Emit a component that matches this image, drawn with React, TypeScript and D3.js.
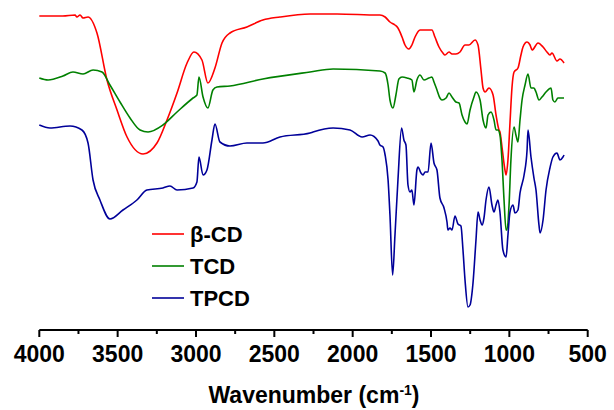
import React from "react";
import * as d3 from "d3";

// Wavenumber (cm-1) and relative transmittance (a.u.) for each spectrum
const betaCD: [number, number][] = [
  [4000, 314], [3850, 314], [3772, 315], [3760, 313], [3740, 315], [3721, 312], [3689, 313],
  [3632, 297], [3568, 250], [3504, 220], [3440, 193], [3338, 176], [3249, 187], [3185, 210],
  [3121, 237], [3057, 267], [3013, 278], [2962, 270], [2924, 247], [2879, 262], [2834, 287],
  [2783, 297], [2675, 303], [2573, 310], [2464, 313], [2272, 316], [2100, 316], [1838, 315],
  [1826, 315], [1793, 313], [1762, 308], [1730, 305], [1711, 302], [1685, 293], [1666, 285],
  [1641, 281], [1622, 285], [1602, 293], [1570, 300], [1526, 300], [1494, 300], [1475, 293],
  [1449, 283], [1424, 277], [1411, 275], [1385, 278], [1366, 276], [1341, 276], [1315, 278],
  [1283, 285], [1258, 285], [1219, 290], [1200, 285], [1181, 260], [1168, 242], [1155, 238],
  [1130, 242], [1104, 235], [1085, 215], [1066, 200], [1060, 198], [1047, 183], [1028, 160],
  [1021, 155], [1009, 170], [996, 207], [983, 243], [970, 258], [945, 262], [926, 275],
  [913, 283], [887, 288], [868, 285], [855, 280], [817, 287], [785, 283], [760, 278],
  [741, 275], [728, 277], [696, 269], [677, 271], [651, 267],
];

const tcd: [number, number][] = [
  [4000, 252], [3944, 250], [3849, 254], [3785, 258], [3721, 256], [3657, 260], [3600, 258],
  [3549, 245], [3485, 228], [3421, 212], [3357, 200], [3306, 198], [3211, 205], [3121, 218],
  [3019, 232], [2994, 235], [2981, 253], [2955, 233], [2924, 222], [2892, 240], [2866, 243],
  [2783, 244], [2573, 251], [2272, 258], [2125, 261], [1826, 259], [1793, 257], [1774, 245],
  [1762, 230], [1743, 222], [1724, 235], [1705, 251], [1685, 253], [1653, 252], [1622, 250],
  [1609, 238], [1590, 250], [1570, 255], [1545, 250], [1513, 252], [1494, 253], [1481, 248],
  [1462, 240], [1443, 232], [1430, 230], [1404, 232], [1385, 237], [1366, 233], [1341, 228],
  [1321, 227], [1302, 215], [1283, 208], [1270, 206], [1251, 220], [1226, 233], [1213, 238],
  [1187, 230], [1168, 210], [1149, 202], [1136, 215], [1117, 218], [1098, 210], [1085, 200],
  [1073, 200], [1060, 195], [1047, 170], [1034, 130], [1021, 100], [1015, 100], [1002, 125],
  [990, 170], [970, 203], [958, 195], [945, 188], [932, 210], [919, 230], [900, 245],
  [881, 256], [862, 242], [843, 242], [830, 238], [811, 230], [792, 233], [766, 238],
  [734, 242], [722, 230], [709, 228], [690, 232], [664, 232], [651, 232],
];

const tpcd: [number, number][] = [
  [4000, 205], [3932, 202], [3804, 204], [3728, 200], [3689, 187], [3657, 150], [3613, 130],
  [3549, 111], [3466, 120], [3377, 130], [3313, 140], [3211, 142], [3166, 144], [3121, 140],
  [3019, 142], [2994, 148], [2981, 173], [2955, 155], [2930, 160], [2898, 190], [2879, 206],
  [2847, 188], [2783, 184], [2675, 187], [2573, 187], [2464, 193], [2272, 197], [2253, 198],
  [2125, 202], [2017, 200], [1940, 193], [1889, 195], [1838, 189], [1826, 185], [1806, 183],
  [1793, 175], [1774, 150], [1762, 115], [1745, 55], [1730, 95], [1711, 150], [1688, 202],
  [1673, 190], [1660, 185], [1647, 145], [1634, 138], [1622, 140], [1609, 125], [1590, 160],
  [1583, 163], [1564, 157], [1551, 155], [1538, 158], [1519, 158], [1500, 187], [1481, 167],
  [1462, 160], [1443, 132], [1417, 122], [1398, 108], [1392, 100], [1379, 102], [1366, 100],
  [1347, 114], [1328, 106], [1309, 104], [1296, 80], [1283, 50], [1264, 23], [1251, 25],
  [1232, 47], [1213, 90], [1200, 118], [1187, 110], [1174, 105], [1162, 112], [1149, 130],
  [1130, 143], [1111, 125], [1098, 118], [1085, 125], [1073, 130], [1060, 118], [1041, 80],
  [1021, 73], [1009, 95], [996, 118], [977, 125], [964, 117], [945, 120], [932, 137],
  [906, 155], [887, 180], [881, 200], [862, 173], [843, 152], [830, 140], [811, 105],
  [804, 97], [785, 110], [766, 140], [741, 162], [722, 173], [696, 177], [677, 170],
  [658, 173], [651, 175],
];

const seriesNames = ["β-CD", "TCD", "TPCD"];
const seriesColors = ["#ff0000", "#008000", "#000099"];
const seriesData = [betaCD, tcd, tpcd];
const majorTicks = [4000, 3500, 3000, 2500, 2000, 1500, 1000, 500];
const minorTicks = [3750, 3250, 2750, 2250, 1750, 1250, 750];

const W = 614;
const H = 410;
const left = 39.3;
const right = 587.7;
const bottom = 330;

export default function App() {
  const x = d3.scaleLinear().domain([4000, 500]).range([left, right]);
  const y = d3.scaleLinear().domain([0, 330]).range([bottom, 0]);
  const line = d3
    .line<[number, number]>()
    .x((d) => x(d[0]))
    .y((d) => y(d[1]))
    .curve(d3.curveMonotoneX);

  const font = "Arial, 'Liberation Sans', Helvetica, sans-serif";

  return (
    <svg
      width={W}
      height={H}
      style={{ position: "fixed", left: 0, top: 0, background: "#fff" }}
      fontFamily={font}
    >
      {seriesData.map((d, i) => (
        <path key={i} d={line(d) || ""} fill="none" stroke={seriesColors[i]} strokeWidth={1.6} strokeLinejoin="round" />
      ))}

      {/* axis */}
      <line x1={x(4000)} x2={x(500)} y1={bottom} y2={bottom} stroke="#000" strokeWidth={2} />
      {majorTicks.map((t) => (
        <line key={"M" + t} x1={x(t)} x2={x(t)} y1={bottom} y2={bottom + 7} stroke="#000" strokeWidth={2} />
      ))}
      {minorTicks.map((t) => (
        <line key={"m" + t} x1={x(t)} x2={x(t)} y1={bottom} y2={bottom + 4} stroke="#000" strokeWidth={2} />
      ))}
      {majorTicks.map((t) => (
        <text key={"L" + t} x={x(t)} y={362} textAnchor="middle" fontSize={23} fontWeight="bold" fill="#000">
          {t}
        </text>
      ))}
      <text x={314} y={403} textAnchor="middle" fontSize={23} fontWeight="bold" fill="#000">
        Wavenumber (cm<tspan dy={-8} fontSize={14}>-1</tspan><tspan dy={8}>)</tspan>
      </text>

      {/* legend */}
      {seriesNames.map((n, i) => (
        <g key={n} transform={`translate(0, ${234 + i * 32})`}>
          <line x1={152} x2={184} y1={0} y2={0} stroke={seriesColors[i]} strokeWidth={1.6} />
          <text x={190} y={8} fontSize={22} fontWeight="bold" fill="#000">
            {n}
          </text>
        </g>
      ))}
    </svg>
  );
}
